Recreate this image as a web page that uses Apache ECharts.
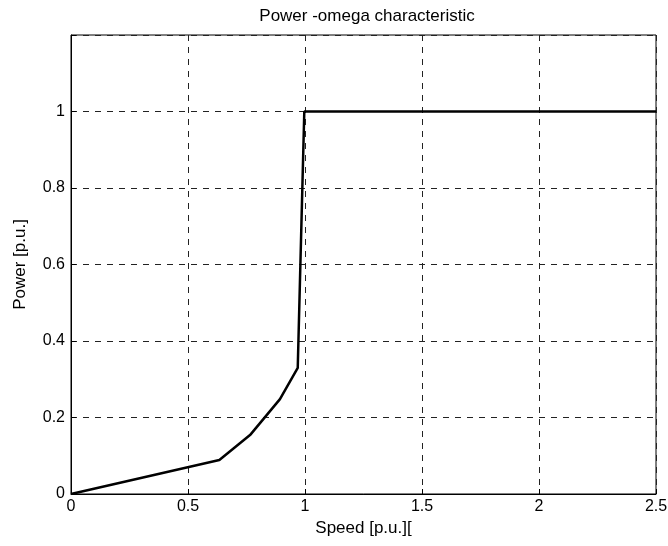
<!DOCTYPE html>
<html><head><meta charset="utf-8">
<script src="https://cdn.jsdelivr.net/npm/echarts@6/dist/echarts.min.js"></script>
<style>html,body{margin:0;padding:0;background:#fff}#c{width:668px;height:546px}</style>
</head><body><div id="c"></div>
<script>
const speed = [0, 0.634, 0.765, 0.893, 0.969, 0.997, 2.5];
const power = [0, 0.089, 0.154, 0.248, 0.330, 1.0, 1.0];
const xTicks = [0, 0.5, 1, 1.5, 2, 2.5];
const yTicks = [0, 0.2, 0.4, 0.6, 0.8, 1];
const titleText = 'Power -omega characteristic';
const xName = 'Speed [p.u.][';
const yName = 'Power [p.u.]';

const font = 'Liberation Sans, Arial, sans-serif';
const chart = echarts.init(document.getElementById('c'), null, {renderer: 'canvas'});
const dash = {color: '#222', width: 1, type: [6, 6]};
chart.setOption({
  animation: false,
  title: {text: titleText, left: 362, top: 3, textAlign: 'center',
    textStyle: {fontFamily: font, fontSize: 17, fontWeight: 'normal', color: '#000'}},
  grid: {left: 71, right: 12, top: 35, bottom: 52, containLabel: false, outerBoundsMode: 'none',
    show: true, borderColor: '#000', borderWidth: 1, backgroundColor: '#fff'},
  xAxis: {type: 'value', min: 0, max: 2.5, interval: 0.5,
    name: xName, nameLocation: 'middle', nameGap: 22,
    nameTextStyle: {fontFamily: font, fontSize: 17, color: '#000'},
    axisLine: {show: true, lineStyle: {color: '#000', width: 1}},
    axisTick: {show: true, inside: true, length: 5, lineStyle: {color: '#000'}},
    axisLabel: {fontFamily: font, fontSize: 16, color: '#000', margin: 5, hideOverlap: false,
      formatter: v => xTicks.some(t => Math.abs(t - v) < 1e-9) ? String(v) : ''},
    splitLine: {show: true, lineStyle: dash}},
  yAxis: {type: 'value', min: 0, max: 1.2, interval: 0.2,
    name: yName, nameLocation: 'middle', nameGap: 42, nameRotate: 90,
    nameTextStyle: {fontFamily: font, fontSize: 17, color: '#000'},
    axisLine: {show: true, lineStyle: {color: '#000', width: 1}},
    axisTick: {show: true, inside: true, length: 5, lineStyle: {color: '#000'}},
    axisLabel: {fontFamily: font, fontSize: 16, color: '#000', margin: 6,
      formatter: v => yTicks.some(t => Math.abs(t - v) < 1e-9) ? String(Math.round(v*10)/10) : ''},
    splitLine: {show: true, lineStyle: dash}},
  series: [{type: 'line', data: speed.map((s, i) => [s, power[i]]),
    showSymbol: false, symbol: 'none', lineStyle: {color: '#000', width: 2.5}, z: 5}]
});
</script></body></html>
